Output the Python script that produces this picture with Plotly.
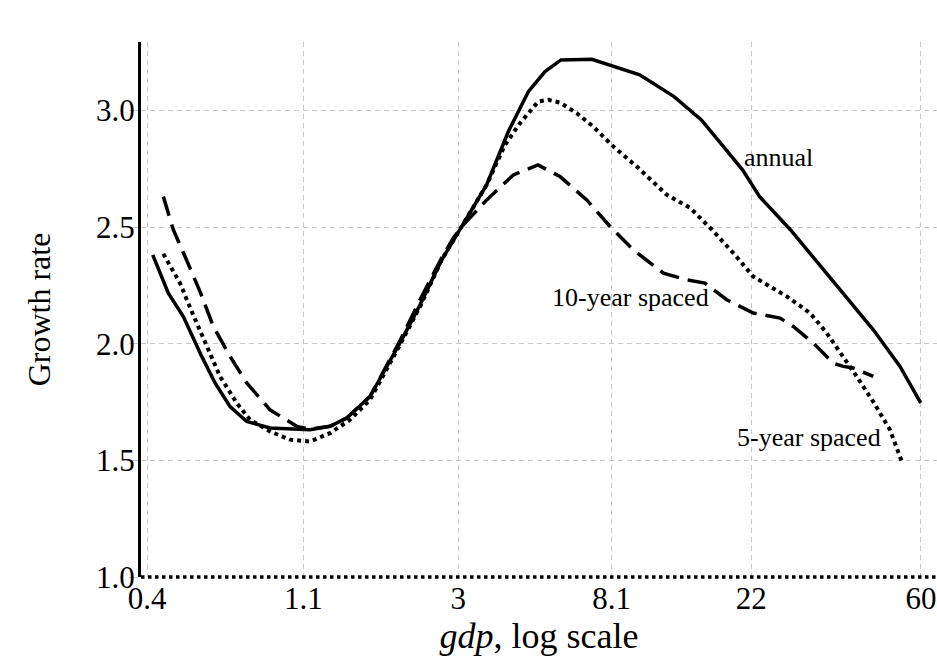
import math
import plotly.graph_objects as go

# GDP per capita (log scale) and smoothed growth rate for three sampling schemes
annual_gdp = [0.4145, 0.4585, 0.5053, 0.5692, 0.6205, 0.6837, 0.7619, 0.8859, 1.148, 1.307,
              1.456, 1.693, 2.056, 2.341, 2.694, 3.098, 3.605, 4.147, 4.720, 5.259,
              5.833, 7.121, 8.013, 9.712, 12.13, 14.48, 16.55, 18.90, 21.11, 25.77,
              31.42, 37.57, 44.09, 52.41, 59.94]
annual_growth = [2.381, 2.217, 2.117, 1.946, 1.832, 1.731, 1.667, 1.639, 1.631, 1.646,
                 1.682, 1.774, 2.004, 2.167, 2.360, 2.517, 2.682, 2.910, 3.081, 3.167,
                 3.217, 3.220, 3.196, 3.153, 3.060, 2.960, 2.853, 2.746, 2.631, 2.489,
                 2.331, 2.189, 2.060, 1.903, 1.747]

five_gdp = [0.4439, 0.4946, 0.5336, 0.5880, 0.6409, 0.7141, 0.7783, 0.8859, 1.0085, 1.148,
            1.307, 1.487, 1.693, 2.056, 2.341, 2.694, 3.098, 3.605, 4.059, 4.473,
            5.036, 5.373, 5.796, 6.458, 7.191, 8.185, 9.524, 11.57, 13.45, 15.51,
            18.00, 20.27, 25.17, 29.26, 32.61, 36.31, 39.60, 44.09, 49.12, 52.99]
five_growth = [2.386, 2.260, 2.138, 1.988, 1.860, 1.746, 1.674, 1.624, 1.589, 1.581,
               1.617, 1.674, 1.760, 1.996, 2.159, 2.360, 2.517, 2.682, 2.853, 2.946,
               3.039, 3.046, 3.034, 2.989, 2.931, 2.846, 2.760, 2.639, 2.583, 2.489,
               2.381, 2.288, 2.203, 2.132, 2.046, 1.946, 1.860, 1.751, 1.631, 1.496]

ten_gdp = [0.4439, 0.4736, 0.5109, 0.5630, 0.6137, 0.6837, 0.7619, 0.8859, 1.053, 1.148,
           1.307, 1.456, 1.693, 2.056, 2.341, 2.694, 2.904, 3.098, 3.605, 4.283,
           5.026, 5.796, 6.890, 8.013, 9.317, 11.32, 13.17, 14.82, 17.06, 20.27,
           24.10, 26.26, 29.89, 34.03, 36.31, 38.73, 44.09]
ten_growth = [2.631, 2.489, 2.374, 2.224, 2.074, 1.946, 1.832, 1.717, 1.646, 1.634,
              1.646, 1.682, 1.774, 2.013, 2.189, 2.369, 2.454, 2.510, 2.617, 2.724,
              2.767, 2.717, 2.617, 2.503, 2.403, 2.303, 2.274, 2.260, 2.189, 2.132,
              2.110, 2.074, 2.003, 1.917, 1.903, 1.896, 1.860]

x_tick_vals = [0.4, 1.1, 3, 8.1, 20, 60]
x_tick_text = ["0.4", "1.1", "3", "8.1", "22", "60"]
y_tick_vals = [1.0, 1.5, 2.0, 2.5, 3.0]
y_tick_text = ["1.0", "1.5", "2.0", "2.5", "3.0"]

# series labels placed next to their curves: (text, gdp, growth)
labels = [("annual", 18.8, 2.80),
          ("10-year spaced", 5.44, 2.20),
          ("5-year spaced", 18.0, 1.60)]

SERIF = "Liberation Serif, Times New Roman, serif"
GRID = "#c8c8c8"

fig = go.Figure()
fig.add_trace(go.Scatter(x=annual_gdp, y=annual_growth, mode="lines",
                         line=dict(color="black", width=3.5), name="annual"))
fig.add_trace(go.Scatter(x=five_gdp, y=five_growth, mode="lines",
                         line=dict(color="black", width=4, dash="dot"), name="5-year spaced"))
fig.add_trace(go.Scatter(x=ten_gdp, y=ten_growth, mode="lines",
                         line=dict(color="black", width=3.5, dash="20px,9px"), name="10-year spaced"))

# annotation x positions on a log axis are given in log10 units
for text, gx, gy in labels:
    fig.add_annotation(x=math.log10(gx), y=gy, xref="x", yref="y", text=text, showarrow=False,
                       xanchor="left", yanchor="middle",
                       font=dict(family=SERIF, size=26, color="black"))

# dotted baseline along the bottom of the plotting area
fig.add_shape(type="line", xref="paper", yref="paper", x0=0, x1=1, y0=0, y1=0,
              line=dict(color="black", width=3.5, dash="dot"))

fig.update_layout(
    width=937, height=659,
    margin=dict(l=141, r=0, t=42, b=82),
    paper_bgcolor="white", plot_bgcolor="white",
    showlegend=False,
    font=dict(family=SERIF, color="black"),
)
fig.update_xaxes(
    type="log", range=[-0.4155, 1.8235],
    tickvals=x_tick_vals, ticktext=x_tick_text,
    showgrid=True, gridcolor=GRID, gridwidth=1, griddash="5px,4px",
    showline=False, zeroline=False, ticks="",
    tickfont=dict(family=SERIF, size=31, color="black"),
    title=dict(text="<i>gdp</i>, log scale", font=dict(family=SERIF, size=36, color="black"),
               standoff=4),
)
fig.update_yaxes(
    range=[1.0, 3.294],
    tickvals=y_tick_vals, ticktext=y_tick_text,
    showgrid=True, gridcolor=GRID, gridwidth=1, griddash="5px,4px",
    showline=True, linecolor="black", linewidth=3,
    zeroline=False, ticks="outside", ticklen=9, tickcolor=GRID, tickwidth=1,
    ticklabelstandoff=-12,
    tickfont=dict(family=SERIF, size=31, color="black"),
    title=dict(text="Growth rate", font=dict(family=SERIF, size=32, color="black"),
               standoff=36),
)

fig.write_html("out.html")
